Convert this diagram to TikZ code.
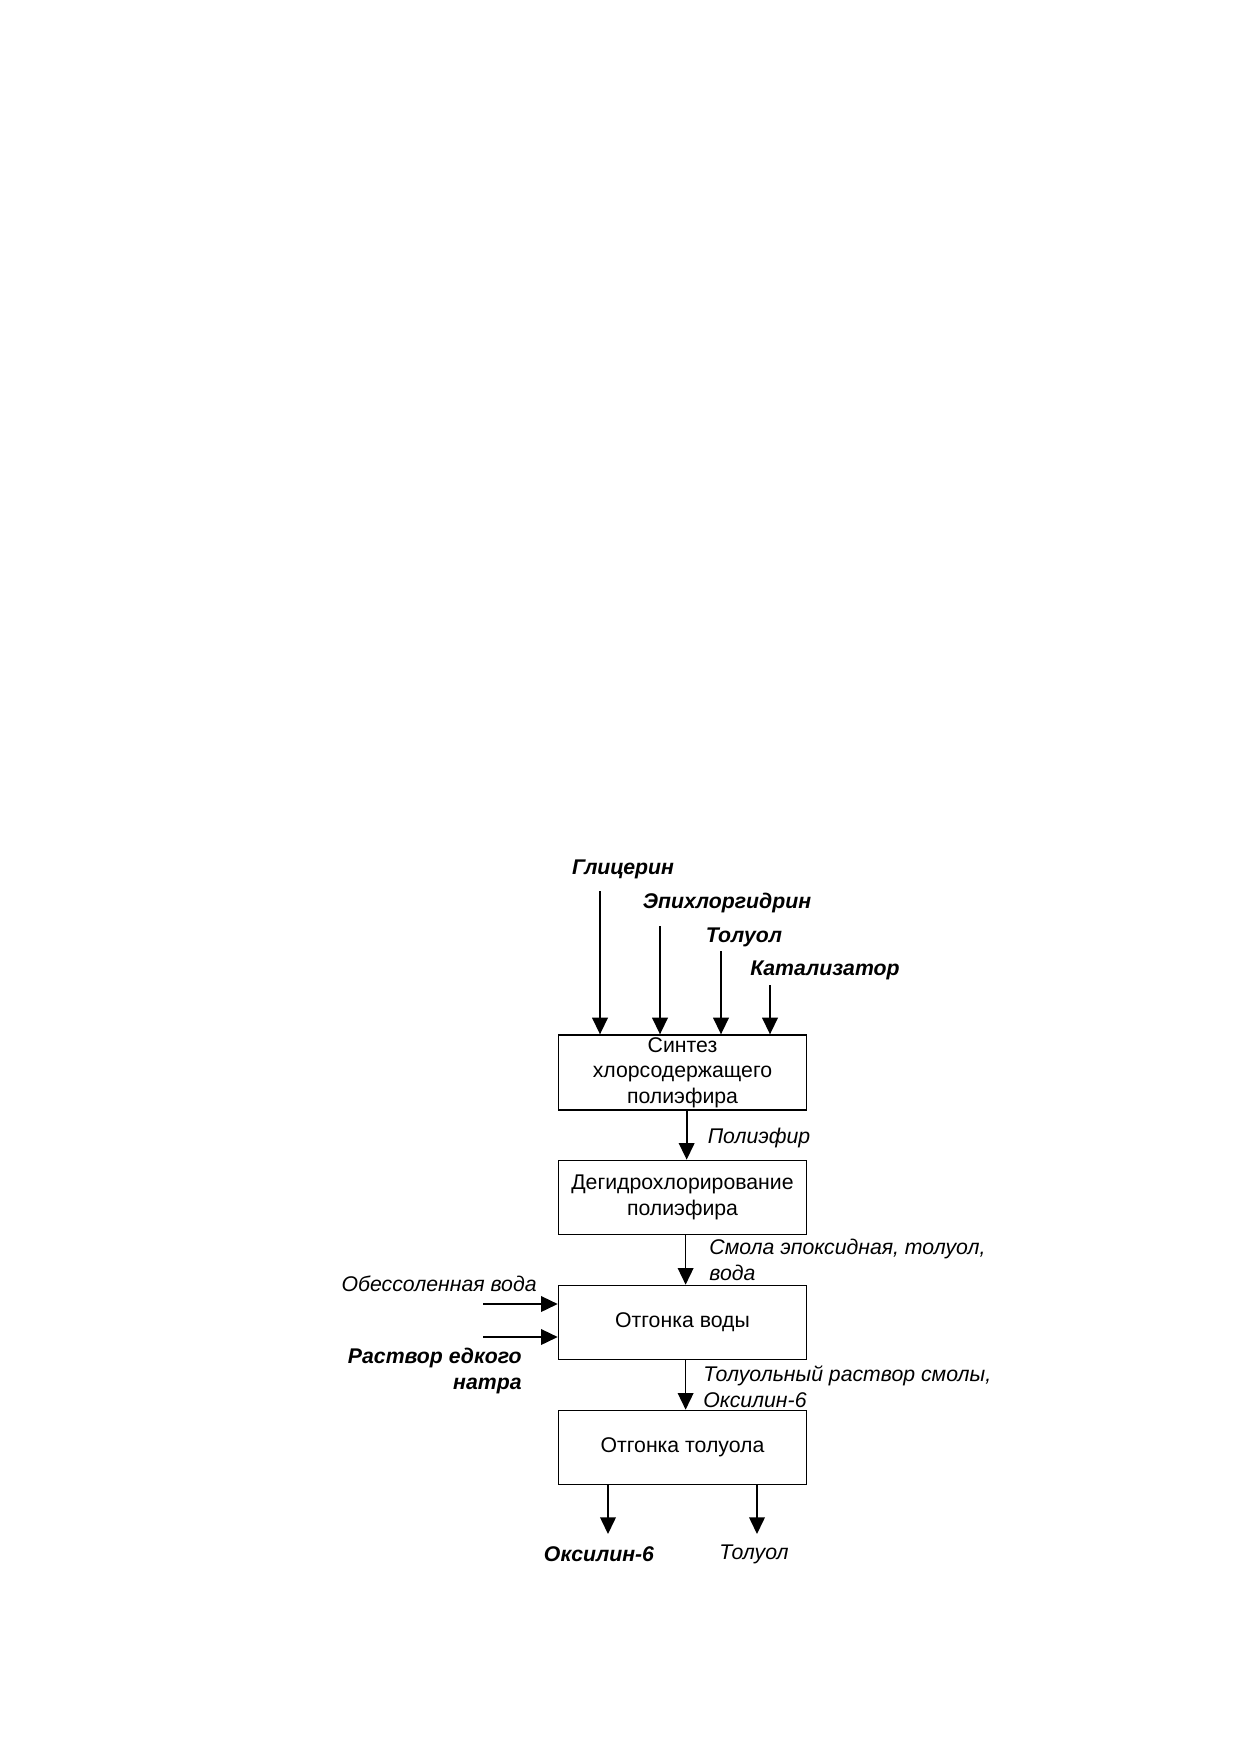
\documentclass[tikz,border=0pt]{standalone}
\usepackage{fontspec}
\setmainfont{Liberation Sans}
\usetikzlibrary{arrows.meta}

\begin{document}
\begin{tikzpicture}[x=0.48pt, y=-0.48pt,
  every node/.style = {font=\fontsize{10.2}{12.3}\selectfont},
  stage/.style = {shape=rectangle, draw, line width=0.8pt, align=center,
    minimum width=119pt, minimum height=35.5pt, inner sep=1pt},
  feed/.style = {inner sep=0pt, align=right,
    font=\fontsize{10.2}{12.3}\selectfont\bfseries\itshape},
  stream/.style = {inner sep=0pt, align=left,
    font=\fontsize{10.2}{12.3}\selectfont\itshape},
  flow/.style = {-{Triangle[length=8pt,width=7.5pt]}, line width=0.8pt}]
  \useasboundingbox (0,0) rectangle (1240,1754);
  % stages
  \node[stage] (synth) at (682.5,1072.5) {Синтез\\хлорсодержащего\\полиэфира};
  \node[stage] (dehydro) at (682.5,1197.5) {Дегидрохлорирование\\полиэфира};
  \node[stage] (water) at (682.5,1322.5) {Отгонка воды};
  \node[stage] (tolu) at (682.5,1447.5) {Отгонка толуола};
  % raw materials
  \node[feed] (glyc) at (623,869) {Глицерин};
  \node[feed] (epi) at (727,903) {Эпихлоргидрин};
  \node[feed] (tol) at (744,937) {Толуол};
  \node[feed] (cat) at (825,970) {Катализатор};
  \coordinate (in1) at (600,891);
  \coordinate (in2) at (660,926);
  \coordinate (in3) at (721,951);
  \coordinate (in4) at (770,985);
  \foreach \i in {in1,in2,in3,in4}
    \draw[flow] (\i) -- (\i |- synth.north);
  % streams between stages
  \draw[flow] ([xshift=2pt]synth.south) -- ([xshift=2pt]dehydro.north)
    node[stream, anchor=west] (poly) at (707,1138) {Полиэфир};
  \draw[flow] ([xshift=1.5pt]dehydro.south) -- ([xshift=1.5pt]water.north);
  \node[stream, anchor=west] (resin) at (709,1260) {Смола эпоксидная, толуол,\\вода};
  \draw[flow] ([xshift=1.5pt]water.south) -- ([xshift=1.5pt]tolu.north);
  \node[stream, anchor=west] (sol) at (703,1386.5) {Толуольный раствор смолы,\\Оксилин-6};
  % side feeds
  \node[stream, anchor=east] (demin) at (537,1284) {Обессоленная вода};
  \node[feed, anchor=east] (naoh) at (522,1371) {Раствор едкого\\натра};
  \coordinate (side1) at (483,1304);
  \coordinate (side2) at (483,1337);
  \draw[flow] (side1) -- (side1 -| water.west);
  \draw[flow] (side2) -- (side2 -| water.west);
  % products
  \coordinate (out1) at (608,1534);
  \coordinate (out2) at (757,1534);
  \draw[flow] (out1 |- tolu.south) -- (out1);
  \draw[flow] (out2 |- tolu.south) -- (out2);
  \node[feed] (oxy) at (599,1554) {Оксилин-6};
  \node[stream] (tolout) at (754,1554) {Толуол};
\end{tikzpicture}
\end{document}
